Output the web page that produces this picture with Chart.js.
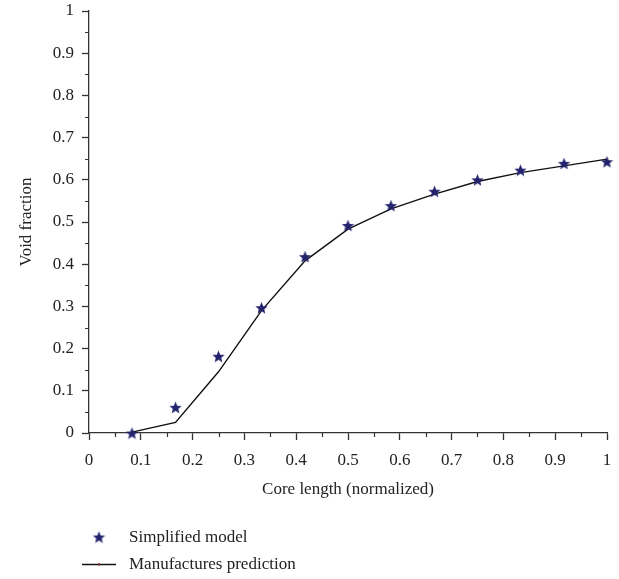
<!DOCTYPE html>
<html>
<head>
<meta charset="utf-8">
<script src="https://cdn.jsdelivr.net/npm/chart.js@4.4.1/dist/chart.umd.min.js"></script>
<style>
  body { margin: 0; background: #fff; }
  #wrap { width: 619px; height: 579px; position: relative; }
</style>
</head>
<body>
<div id="wrap"><canvas id="grafico"></canvas></div>
<script>
// posiciones a lo largo del núcleo (normalizadas)
const longitudNucleo = [0.083, 0.167, 0.25, 0.333, 0.417, 0.5, 0.583, 0.667, 0.75, 0.833, 0.917, 1.0];
// fracción de vacío: modelo simplificado (estrellas)
const modeloSimplificado = [0.0, 0.061, 0.182, 0.297, 0.418, 0.492, 0.539, 0.573, 0.600, 0.623, 0.639, 0.643];
// fracción de vacío: predicción del fabricante (línea)
const prediccionFabricante = [0.002, 0.025, 0.145, 0.29, 0.408, 0.483, 0.531, 0.566, 0.596, 0.617, 0.633, 0.649];

const etiquetasSerie = ["Simplified model", "Manufactures prediction"];
const tituloX = "Core length (normalized)";
const tituloY = "Void fraction";

const AZUL = '#23236e';
const FUENTE = '"Liberation Serif", "DejaVu Serif", serif';

/** estrella rellena de 5 puntas para usar como pointStyle **/
function crearEstrella(tam, color) {
    const c = document.createElement('canvas');
    c.width = tam; c.height = tam;
    const ctx = c.getContext('2d');
    const r = tam / 2, ri = r * 0.44;
    ctx.beginPath();
    for (let i = 0; i < 10; i++) {
        const rad = (i % 2 === 0) ? r : ri;
        const ang = -Math.PI / 2 + i * Math.PI / 5;
        const px = r + rad * Math.cos(ang), py = r + 0.7 + rad * Math.sin(ang);
        i === 0 ? ctx.moveTo(px, py) : ctx.lineTo(px, py);
    }
    ctx.closePath();
    ctx.fillStyle = color;
    ctx.fill();
    return c;
}
const estrella = crearEstrella(13, AZUL);

const toPts = (ys) => longitudNucleo.map((x, i) => ({ x, y: ys[i] }));

// marcas menores (a mitad de cada paso) en ambos ejes
const ticksMenores = {
    id: 'ticksMenores',
    afterDraw(chart) {
        const ctx = chart.ctx;
        const { x, y } = chart.scales;
        ctx.save();
        ctx.strokeStyle = '#333';
        ctx.lineWidth = 1.2;
        ctx.beginPath();
        for (let v = 0.05; v < 1; v += 0.1) {
            const px = Math.round(x.getPixelForValue(v)) + 0.5;
            ctx.moveTo(px, y.bottom); ctx.lineTo(px, y.bottom + 4);
            const py = Math.round(y.getPixelForValue(v)) + 0.5;
            ctx.moveTo(x.left, py); ctx.lineTo(x.left - 4, py);
        }
        ctx.stroke();
        ctx.restore();
    }
};

// leyenda apilada debajo del gráfico
const leyenda = {
    id: 'leyenda',
    afterDraw(chart) {
        const ctx = chart.ctx;
        ctx.save();
        ctx.font = '17px ' + FUENTE;
        ctx.fillStyle = '#222';
        ctx.textBaseline = 'middle';
        ctx.drawImage(estrella, 99 - 6.5, 537 - 6.5);
        ctx.fillText(etiquetasSerie[0], 129, 538);
        ctx.strokeStyle = '#111';
        ctx.lineWidth = 1.3;
        ctx.beginPath(); ctx.moveTo(82, 564.5); ctx.lineTo(116, 564.5); ctx.stroke();
        ctx.fillStyle = '#7a1a1a';
        ctx.fillRect(98, 563.5, 2, 2);
        ctx.fillStyle = '#222';
        ctx.fillText(etiquetasSerie[1], 129, 565);
        ctx.restore();
    }
};

const fmt = (v) => String(+Number(v).toFixed(2));

// el área del gráfico se fija con layout.padding, sin margen extra por las etiquetas
const sinMargen = (s) => { s.paddingTop = 0; s.paddingBottom = 0; s.paddingLeft = 0; s.paddingRight = 0; };

new Chart(document.getElementById('grafico'), {
    type: 'scatter',
    data: {
        datasets: [
            {
                label: etiquetasSerie[0],
                data: toPts(modeloSimplificado),
                pointStyle: estrella,
                pointRadius: 6,
                showLine: false,
                clip: false,
                order: 0
            },
            {
                label: etiquetasSerie[1],
                data: toPts(prediccionFabricante),
                showLine: true,
                borderColor: '#111',
                borderWidth: 1.4,
                pointRadius: 0,
                tension: 0,
                clip: false,
                order: 1
            }
        ]
    },
    options: {
        responsive: true,
        maintainAspectRatio: false,
        animation: false,
        layout: { padding: { top: 11, right: 12, left: 0, bottom: 79 } },
        font: { family: FUENTE },
        plugins: { legend: { display: false }, tooltip: { enabled: false } },
        scales: {
            x: {
                type: 'linear', min: 0, max: 1,
                afterFit: (s) => { s.height = 67; sinMargen(s); },
                border: { display: true, color: '#333', width: 1.3 },
                grid: { drawOnChartArea: false, drawTicks: true, tickLength: 7, color: '#333', tickWidth: 1.3 },
                ticks: { stepSize: 0.1, padding: 10, color: '#222', maxRotation: 0, font: { family: FUENTE, size: 17 }, callback: fmt },
                title: { display: true, text: tituloX, color: '#222', padding: { top: 0, bottom: 0 }, font: { family: FUENTE, size: 17 } }
            },
            y: {
                type: 'linear', min: 0, max: 1,
                afterFit: (s) => { s.width = 89; sinMargen(s); },
                border: { display: true, color: '#333', width: 1.3 },
                grid: { drawOnChartArea: false, drawTicks: true, tickLength: 7, color: '#333', tickWidth: 1.3 },
                ticks: { stepSize: 0.1, padding: 8, color: '#222', font: { family: FUENTE, size: 17 }, callback: fmt },
                title: { display: true, text: tituloY, color: '#222', padding: { top: 16, bottom: 0 }, font: { family: FUENTE, size: 17 } }
            }
        }
    },
    plugins: [ticksMenores, leyenda]
});
</script>
</body>
</html>
